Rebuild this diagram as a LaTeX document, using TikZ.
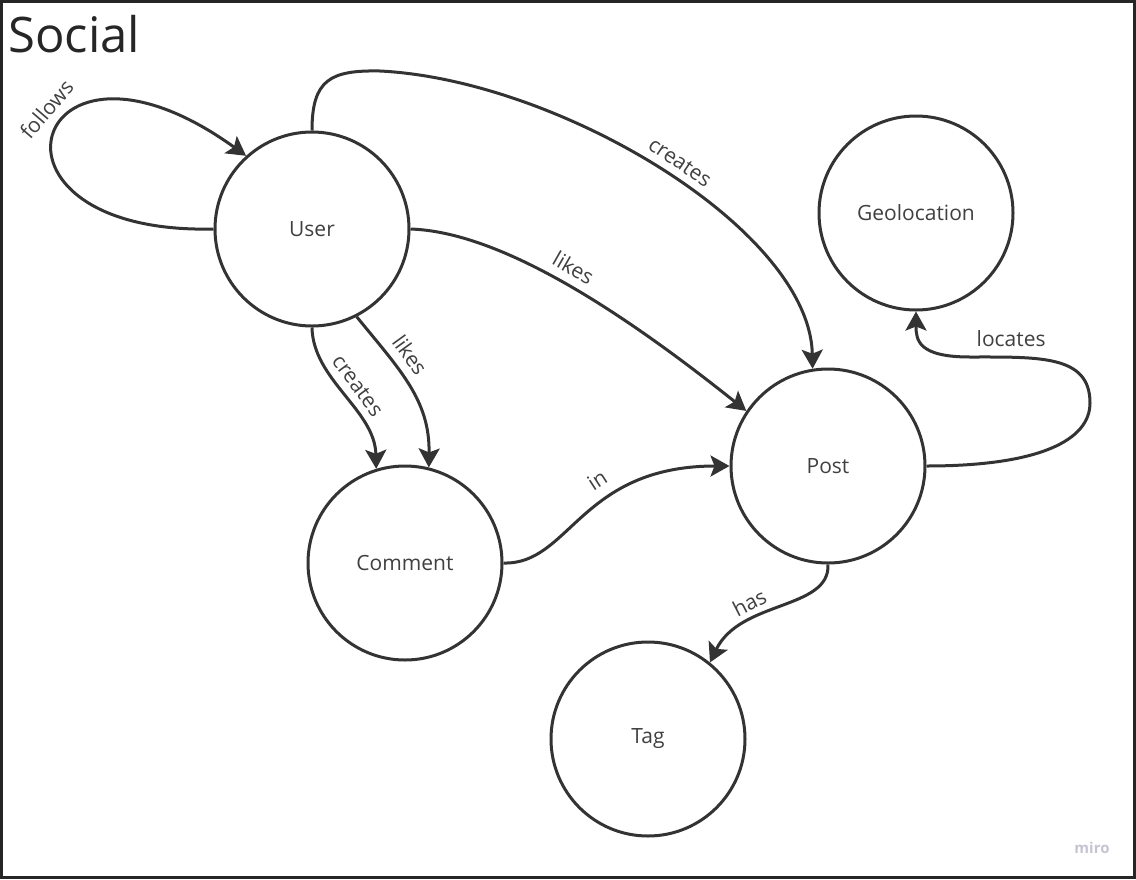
\documentclass[tikz,border=0pt]{standalone}
\usepackage{fontspec}
\setmainfont{Open Sans}
\usetikzlibrary{arrows.meta,positioning}
\definecolor{inkgray}{HTML}{333333}
\definecolor{txtgray}{HTML}{404040}
\definecolor{mirogray}{HTML}{C4C4D2}
\tikzset{
  >={Stealth[length=19pt, width=21pt, inset=4pt]},
  entity/.style={draw=inkgray, circle, line width=3pt, minimum size=194pt,
    inner sep=0pt, text=txtgray, font=\fontsize{21}{25}\selectfont},
  rel/.style={->, draw=inkgray, line width=3pt},
  lbl/.style={text=txtgray, font=\fontsize{21}{25}\selectfont},
  rellabel/.style={lbl, sloped, above=5pt},
}

\begin{document}
\begin{tikzpicture}[x=1pt, y=-1pt]
  \useasboundingbox (0,0) rectangle (1136,879);
  \draw[line width=3pt, draw=black!85] (1.5,1.5) rectangle (1134.5,877.5);
  \node[anchor=base west, inner sep=0pt, text=black!85,
        font=\fontsize{49}{53}\selectfont] (title) at (8,52) {Social};

  % entities
  \node[entity] (User)    at (312,229) {User};
  \node[entity] (Geo)     at (916,213) {Geolocation};
  \node[entity] (Post)    at (828,466) {Post};
  \node[entity] (Comment) at (405,563) {Comment};
  \node[entity] (Tag)     at (648,739) {Tag};

  % relations
  \draw[rel] (User.west) .. controls (-40,235) and (30,0) ..
    node[rellabel, pos=0.565, above=7pt] {follows} (User.132);
  \draw[rel] (User.north) .. controls (312,80) and (330,70) .. (380,71)
    .. controls (560,80) and (810,230) ..
    node[rellabel, pos=0.515] {creates} (Post.99);
  \draw[rel] (User.east) .. controls (500,232) and (620,310) ..
    node[rellabel, pos=0.5] {likes} (Post.146);
  \draw[rel] (User.south) .. controls (313,380) and (375,410) ..
    node[rellabel, pos=0.5] {creates} (Comment.107);
  \draw[rel] (User.297) .. controls (400,370) and (430,400) ..
    node[rellabel, pos=0.34] {likes} (Comment.76);
  \draw[rel] (Comment.east) .. controls (570,565) and (580,466) ..
    node[rellabel, pos=0.62, above=9pt] {in} (Post.west);
  \draw[rel] (Post.east) .. controls (1040,466) and (1090,440) .. (1090,403)
    .. controls (1090,355) and (1040,357) ..
    node[lbl, pos=0.79, above=6pt] {locates} (970,357)
    .. controls (918,357) and (916,340) .. (Geo.south);
  \draw[rel] (Post.south) .. controls (830,610) and (740,600) ..
    node[rellabel, pos=0.65, above=4pt] {has} (Tag.51);

  \node[text=mirogray, font=\fontsize{15}{17}\selectfont\bfseries]
    (miro) at (1092,848) {miro};
\end{tikzpicture}
\end{document}
